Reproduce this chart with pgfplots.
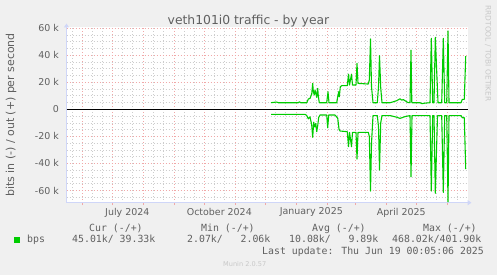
\documentclass[border=0pt]{standalone}
\usepackage{fontspec}
\setmainfont{DejaVu Sans}
\newfontfamily\monof{DejaVu Sans Mono}
\usepackage{pgfplots}
\usepackage{pgfplotstable}
\pgfplotsset{compat=1.18}
\usetikzlibrary{arrows.meta}
\definecolor{bgc}{HTML}{F0F0F0}
\definecolor{fontc}{HTML}{606060}
\definecolor{axisc}{HTML}{CFD6F8}
\definecolor{mgridc}{HTML}{F0A8A8}
\definecolor{gridc}{HTML}{CDCDCD}
\definecolor{linec}{HTML}{00CC00}
\definecolor{wmc}{HTML}{C8C8C8}

% x = day index (1 unit = 1 day, 0 = 2024-05-15), y = thousands of bits per second
\pgfplotstableread{
d val
205 4.9
210.7 5.4
212.3 4.9
232.3 4.9
233.3 5.6
234.7 4.9
240.7 4.9
242.3 7.6
244 8.1
245.7 11.3
246.7 19.2
247.3 13
248.3 10.6
249 14.3
250 11.3
250.7 8.9
251.7 15.5
252.3 9.8
253.3 4.9
260.7 4.9
262 13
263 4.9
270.7 4.9
271.7 9.3
272.7 13
273.3 9.3
274.3 16.7
275.7 17.5
281.3 17.5
282.5 26
283.5 18
285.5 26
286.5 18
290 18
291 34
292 19.2
302.3 18.7
303.3 21.7
304.5 52
305.5 16.7
307 4.9
311.3 4.9
312.5 16.7
313.5 39.7
314.7 16
316 4.9
324 4.9
327.3 5.6
330.7 6.4
334 7.8
335.7 6.8
337.3 7.2
339 6.4
342 5
344 4.9
345 43.8
345.8 4.9
354 4.9
356 4.2
359 4.6
364 4.9
365.3 52.5
366.7 4.9
368 4.9
369.3 53.2
372 4.9
375.7 4.9
377.3 52.5
378.7 4.9
380.7 4.9
382 57.9
383 4.9
395 4.9
396.3 7.4
398.3 7.4
399.7 39.4
}\outdata

\pgfplotstableread{
d val
205 -3.7
239 -3.7
240.7 -4.5
242.3 -7
244 -5.5
245.7 -11.5
246.7 -20.7
247.7 -9.5
248.7 -13
249.7 -10.5
250.7 -16.5
251.7 -12
252.7 -6
254 -4.2
260.7 -4.2
261.7 -13.6
262.7 -4.2
269 -4.2
271.7 -6.5
273 -14.6
274 -16
281.3 -16.5
282.5 -27.6
283.5 -17
285.5 -27.6
286.5 -17
290 -17
291 -36.7
292 -17
302.3 -17
303.3 -20
304.5 -60.4
305.5 -25
307 -4.6
311.3 -4.6
312.5 -13
313.5 -44.9
314.7 -10
316 -4.6
324 -4.6
330.7 -5.8
334 -6.7
337 -5.9
339 -5.4
344 -4.6
345 -49.8
346 -4.6
364 -4.6
365.3 -60.4
366.7 -4.6
368 -4.6
369.3 -62.1
371.5 -4.6
375.7 -4.6
377.3 -61.4
378.7 -4.6
380.7 -4.6
382 -68.3
383 -4.6
395 -4.6
396.3 -6.2
398.3 -6.2
399.7 -44.1
}\indata

\begin{document}
\begin{tikzpicture}[x=1bp,y=1bp]
\useasboundingbox (0,0) rectangle (497,275);
\fill[bgc] (0,0) rectangle (497,275);
\begin{axis}[
  at={(66.5bp,72.3bp)}, anchor=south west,
  scale only axis, width=401bp, height=175.2bp,
  xmin=0.5, xmax=401.5, ymin=-69, ymax=60.5,
  axis background/.style={fill=white},
  axis x line=bottom, axis y line=left,
  axis line style={draw=axisc, line width=1bp, -{Triangle[length=4bp,width=5bp]}, shorten >=-4bp},
  xtick={16.3,46.3,77.3,108.3,138.3,169.3,199.3,230.3,261.3,289.3,320.3,350.3,381.3},
  xticklabels={},
  minor xtick={6.3,26.3,36.3,56.3,66.3,87.3,97.3,118.3,128.3,148.3,158.3,179.3,189.3,209.3,219.3,240.3,250.3,271.3,281.3,299.3,309.3,330.3,340.3,360.3,370.3,391.3},
  extra x ticks={61.3,153.3,245.3,335.3},
  extra x tick labels={July 2024,October 2024,January 2025,April 2025},
  extra x tick style={grid=none, major tick length=0pt},
  xticklabel style={font=\fontsize{9.5}{11}\selectfont, text=fontc, inner sep=0pt, anchor=north, yshift=-5bp},
  ytick={-60,-40,-20,0,20,40,60},
  yticklabels={-60 k,-40 k,-20 k,0,20 k,40 k,60 k},
  minor ytick={-65,-55,-50,-45,-35,-30,-25,-15,-10,-5,5,10,15,25,30,35,45,50,55},
  yticklabel style={font=\fontsize{9.5}{11}\selectfont, text=fontc, inner sep=0pt, anchor=east, xshift=-5bp},
  grid=both,
  major grid style={draw=mgridc, dash pattern=on 1bp off 2bp, line width=0.7bp},
  minor grid style={draw=gridc, dash pattern=on 1bp off 2bp, line width=0.7bp},
  tick align=outside,
  major tick length=2.5bp, minor tick length=0pt,
  tick style={draw=mgridc, line width=0.8bp},
  every y tick/.style={draw=none},
  clip=false,
]
\addplot[black, line width=1.6bp] coordinates {(0.5,0) (401.5,0)};
\addplot[linec, line width=1.1bp, line join=round] table[x=d, y=val] {\outdata};
\addplot[linec, line width=1.1bp, line join=round] table[x=d, y=val] {\indata};
\end{axis}
% title
\node[anchor=base, inner sep=0pt, text=fontc, font=\fontsize{12.4}{14}\selectfont] at (248.5,250.5) {veth101i0 traffic - by year};
% y label
\node[rotate=90, inner sep=0pt, text=fontc, font=\fontsize{11}{13}\selectfont] at (11,160) {bits in (-) / out (+) per second};
% watermark
\node[rotate=-90, inner sep=0pt, text=wmc, font=\fontsize{7.5}{9}\selectfont] at (488,221.5) {RRDTOOL / TOBI OETIKER};
% legend
\begin{scope}[every node/.style={anchor=base west, inner sep=0pt, text=fontc, font=\monof\fontsize{9.9}{12}\selectfont}]
\node at (89,44) {Cur (-/+)};
\node at (201,44) {Min (-/+)};
\node at (312,44) {Avg (-/+)};
\node at (423,44) {Max (-/+)};
\node at (27,32.3) {bps};
\node at (72,32.3) {45.01k/ 39.33k};
\node at (187,32.3) {2.07k/\ \ \ 2.06k};
\node at (289,32.3) {10.08k/\ \ \ 9.89k};
\node at (392,32.3) {468.02k/401.90k};
\node at (262,21) {Last update: Thu Jun 19 00:05:06 2025};
\end{scope}
\fill[linec] (14,32.5) rectangle (19.5,38);
\node[anchor=base west, inner sep=0pt, text=wmc, font=\fontsize{6.6}{8}\selectfont] at (223,8.3) {Munin 2.0.57};
\end{tikzpicture}
\end{document}
